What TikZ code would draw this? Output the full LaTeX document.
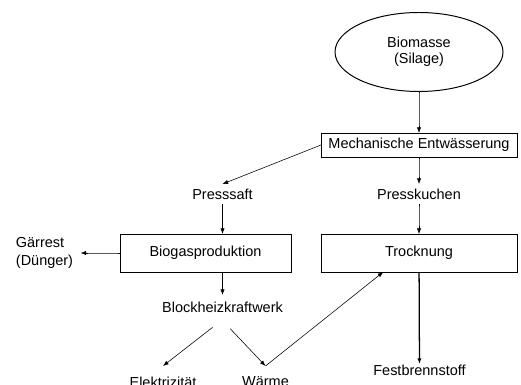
\documentclass[tikz,border=0pt]{standalone}
\usepackage{fontspec}
\setmainfont{Liberation Sans}
\usepackage{xcolor}
\usepackage{tikz-network}
\usetikzlibrary{shapes.geometric,arrows.meta}

\newcommand{\stack}[2]{\raisebox{-2.5pt}{\begin{tabular}{@{}c@{}}#1\\[-1pt]#2\end{tabular}}}
\newcommand{\lstack}[2]{\raisebox{-1pt}{\begin{tabular}{@{}l@{}}#1\\[0.4pt]#2\end{tabular}}}

\begin{document}
\SetVertexStyle[TextFont=\fontsize{10.3}{12.4}\selectfont, LineWidth=0.7pt, LineColor=black, FillColor=white]
\SetEdgeStyle[LineWidth=0.4pt, Color=black, Arrow={-{Latex[length=4pt,width=3pt]}}]
\begin{tikzpicture}
        \useasboundingbox (0,0) rectangle (13.025,-9.625);
        \Vertex[x=10.475, y=-1.3, label={\stack{Biomasse}{(Silage)}}, color=white, style={ellipse, minimum width=4.2cm, minimum height=1.975cm}]{bio}
        \Vertex[x=10.475, y=-3.625, label={Mechanische Entwässerung}, color=white, style={rectangle, minimum width=4.9cm, minimum height=0.6cm}]{mech}
        \Vertex[x=5.5625, y=-4.85, label={Presssaft}, color=white, style={draw=none, rectangle, minimum width=1.6cm, minimum height=0.5cm}]{saft}
        \Vertex[x=10.475, y=-4.85, label={Presskuchen}, color=white, style={draw=none, rectangle, minimum width=2.3cm, minimum height=0.5cm}]{kuchen}
        \Vertex[x=5.1375, y=-6.325, label={Biogasproduktion}, color=white, style={rectangle, minimum width=4.275cm, minimum height=0.95cm}]{bg}
        \Vertex[x=10.475, y=-6.325, label={Trocknung}, color=white, style={rectangle, minimum width=4.9cm, minimum height=0.95cm}]{tr}
        \Vertex[x=1.1125, y=-6.325, label={\lstack{Gärrest}{(Dünger)}}, color=white, style={draw=none, rectangle, minimum width=1.8cm, minimum height=1cm}]{gaer}
        \Vertex[x=5.5625, y=-7.675, label={Blockheizkraftwerk}, color=white, style={draw=none, rectangle, minimum width=3.3cm, minimum height=0.6cm}]{bhkw}
        \Vertex[x=5.55, y=-8.0, Pseudo]{apex}
        \Vertex[x=4.075, y=-9.55, label={Elektrizität}, color=white, style={draw=none, rectangle, minimum width=1.6cm, minimum height=0.8cm}]{el}
        \Vertex[x=6.6375, y=-9.55, label={Wärme}, color=white, style={draw=none, rectangle, minimum width=1.3cm, minimum height=0.8cm}]{wa}
        \Vertex[x=10.4875, y=-9.25, label={Festbrennstoff}, color=white, style={draw=none, rectangle, minimum width=2.5cm, minimum height=0.3cm}]{fest}
        \Edge[Direct](bio)(mech)
        \Edge[Direct](mech.west)(saft.north)
        \Edge[Direct](mech)(kuchen)
        \Edge[Direct](saft)(bg.north -| saft)
        \Edge[Direct](kuchen)(tr)
        \Edge[Direct](bg)(gaer)
        \Edge[Direct](bg.south -| bhkw)(bhkw)
        \Edge[Direct](apex)(el.north)
        \Edge[Direct](apex)(wa.north)
        \Edge[Direct](wa.north)(tr.208)
        \Edge[Direct, style={line width=0.9pt}](tr)(fest)
    \end{tikzpicture}
\end{document}
